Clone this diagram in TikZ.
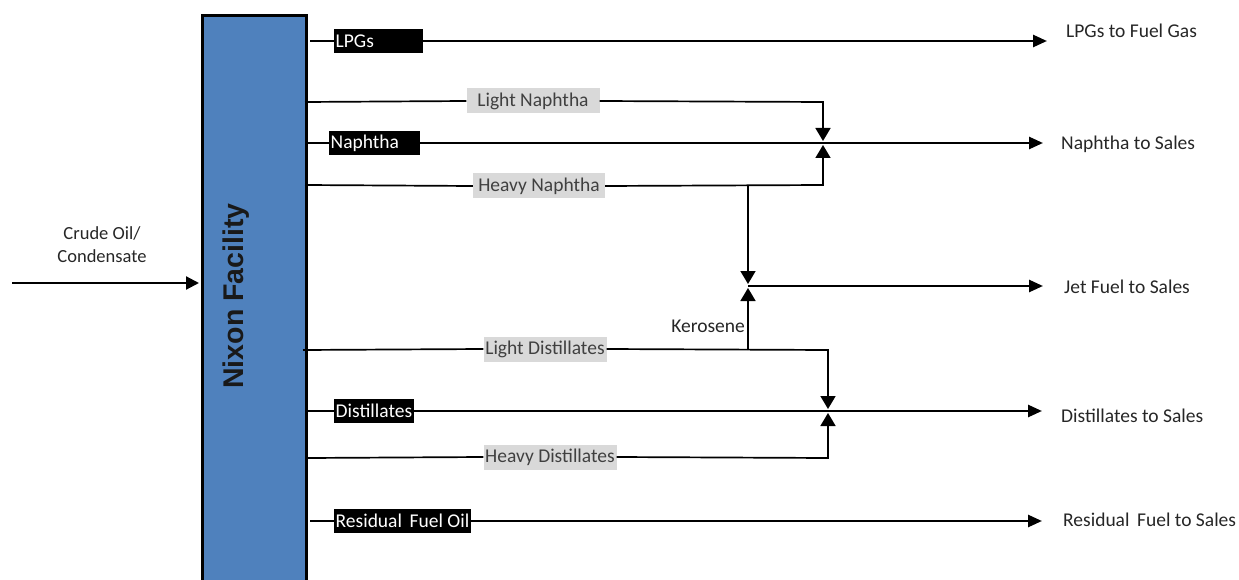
\documentclass[tikz,border=0pt]{standalone}
\usepackage{fontspec}
\setmainfont{Carlito}
\newfontfamily\arialfont{Liberation Sans}
\usetikzlibrary{arrows.meta}
\definecolor{facblue}{RGB}{79,129,189}
\definecolor{lblgray}{RGB}{217,217,217}
\definecolor{lbltext}{RGB}{64,64,64}
\newcommand\lblfont{\fontsize{19.5}{22}\selectfont}
\begin{document}
\begin{tikzpicture}[x=1pt,y=-1pt,
  main/.style={line width=2.6pt},
  side/.style={line width=1.7pt},
  outarrow/.style={main,-{Triangle[width=12pt,length=14pt]}},
  mergetip/.style={side,-{Triangle[width=15pt,length=13pt]}},
  blk/.style={fill=black,text=white,font=\lblfont,inner xsep=1.5pt,inner ysep=0pt,minimum height=24pt,anchor=west},
  gry/.style={fill=lblgray,text=lbltext,font=\lblfont,inner xsep=1pt,inner ysep=0pt,minimum height=25pt},
  outtxt/.style={text=black!85,font=\lblfont,anchor=west,inner sep=0pt},
]
\useasboundingbox (0,0) rectangle (1239,580);

% facility
\node[draw=black,line width=3pt,fill=facblue,minimum width=104pt,minimum height=580pt,
      anchor=north west,inner sep=0pt] (fac) at (200.5,14.5) {};
\node[rotate=90,font=\arialfont\bfseries\fontsize{28.5}{30}\selectfont,text=black!90] (factext) at (236,296) {Nixon Facility};

% feed
\coordinate (feedS) at (12,283);
\coordinate (feedE) at (199,283);
\draw[line width=2.2pt,-{Triangle[width=13pt,length=13pt]}] (feedS) -- (feedE);
\node[font=\fontsize{18.5}{22}\selectfont,text=black!85,align=center,inner sep=0pt] (feedtxt) at (102,245) {Crude Oil/\\[1pt]Condensate};

% ---------- LPGs
\coordinate (lpgS) at (310,41);
\coordinate (lpgE) at (1047,41);
\node[blk,text width=86pt,align=left] (lpg) at (334,41) {LPGs};
\node[outtxt] (lpgOut) at (1066,31) {LPGs to Fuel Gas};
\draw[main] (lpgS) -- (lpg.west);
\draw[outarrow] (lpg.east) -- (lpgE);

% ---------- Naphtha
\coordinate (napS) at (305,143);
\coordinate (napE) at (1043,143);
\node[blk,text width=88pt,align=left] (nap) at (329,143) {Naphtha};
\node[outtxt] (napOut) at (1061,144) {Naphtha to Sales};
\draw[main] (napS) -- (nap.west);
\draw[outarrow] (nap.east) -- (napE);

% light naphtha
\coordinate (lnS) at (305,102);
\coordinate (lnC) at (823,102);
\coordinate (lnT) at (823,141);
\node[gry,minimum width=133pt] (ln) at (533,101) {Light Naphtha};
\draw[side] (lnS) -- (ln.west);
\draw[mergetip] (ln.east) -- (lnC) -- (lnT);

% heavy naphtha
\coordinate (hnS) at (305,185);
\coordinate (hnC) at (823,185);
\coordinate (hnT) at (823,145);
\coordinate (hnK) at (748,185);
\node[gry,minimum width=132pt] (hn) at (539,186) {Heavy Naphtha};
\draw[side] (hnS) -- (hn.west);
\draw[mergetip] (hn.east) -- (hnC) -- (hnT);

% ---------- Jet fuel
\coordinate (jetJ) at (748,286);
\coordinate (jetT) at (748,284);
\coordinate (kerT) at (748,288);
\coordinate (kerS) at (748,350);
\coordinate (jetE) at (1043,286);
\draw[mergetip] (hnK) -- (jetT);
\draw[mergetip] (kerS) -- (kerT);
\draw[outarrow] (jetJ) -- (jetE);
\node[outtxt] (jetOut) at (1064,287) {Jet Fuel to Sales};
\node[font=\lblfont,text=black!85,anchor=east,inner sep=0pt] (kertxt) at (745,326) {Kerosene};

% ---------- Distillates
\coordinate (disS) at (305,411);
\coordinate (disE) at (1042,411);
\node[blk] (dis) at (334,411) {Distillates};
\node[outtxt] (disOut) at (1061,416) {Distillates to Sales};
\draw[main] (disS) -- (dis.west);
\draw[outarrow] (dis.east) -- (disE);

% light distillates
\coordinate (ldS) at (303,350);
\coordinate (ldC) at (828,350);
\coordinate (ldT) at (828,409);
\node[gry,minimum width=123pt] (ld) at (545,349) {Light Distillates};
\draw[side] (ldS) -- (ld.west);
\draw[mergetip] (ld.east) -- (ldC) -- (ldT);

% heavy distillates
\coordinate (hdS) at (308,458);
\coordinate (hdC) at (828,458);
\coordinate (hdT) at (828,413);
\node[gry,minimum width=133pt] (hd) at (550,457) {Heavy Distillates};
\draw[side] (hdS) -- (hd.west);
\draw[mergetip] (hd.east) -- (hdC) -- (hdT);

% ---------- Residual
\coordinate (resS) at (310,521);
\coordinate (resE) at (1042,521);
\node[blk] (res) at (334,521) {Residual\, Fuel Oil};
\node[outtxt] (resOut) at (1063,520) {Residual\, Fuel to Sales};
\draw[main] (resS) -- (res.west);
\draw[outarrow] (res.east) -- (resE);
\end{tikzpicture}
\end{document}
